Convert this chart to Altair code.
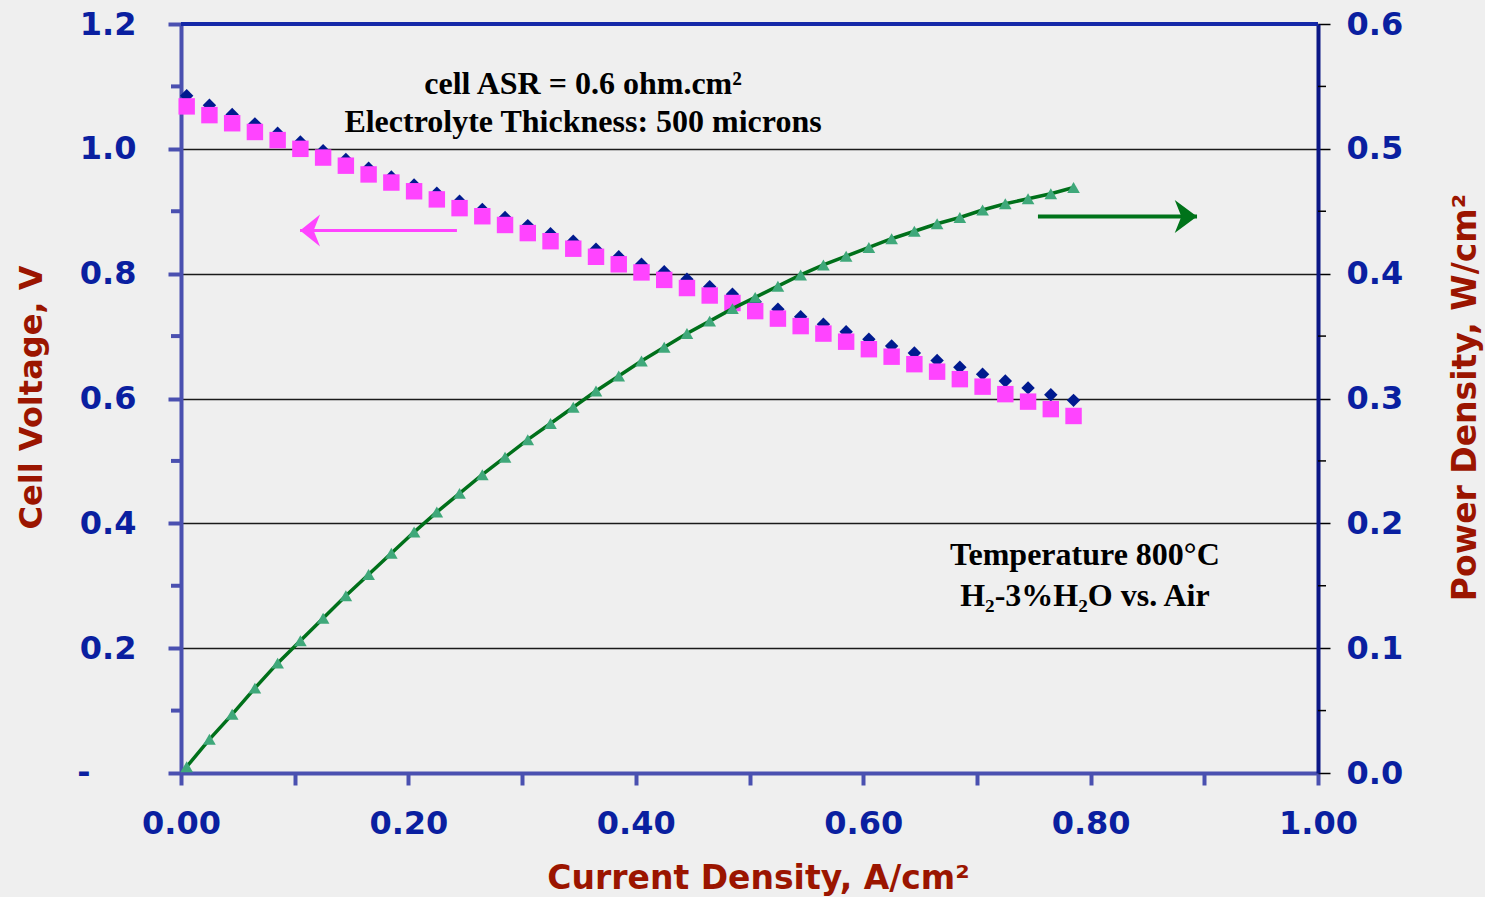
import altair as alt
import pandas as pd

# ---------------- data ----------------
current = [0.005, 0.025, 0.045, 0.065, 0.085, 0.105, 0.125, 0.145, 0.165, 0.185,
           0.205, 0.225, 0.245, 0.265, 0.285, 0.305, 0.325, 0.345, 0.365, 0.385,
           0.405, 0.425, 0.445, 0.465, 0.485, 0.505, 0.525, 0.545, 0.565, 0.585,
           0.605, 0.625, 0.645, 0.665, 0.685, 0.705, 0.725, 0.745, 0.765, 0.785]

voltage_blue = [1.085, 1.070, 1.055, 1.040, 1.025, 1.011, 0.997, 0.983, 0.969, 0.955,
                0.942, 0.929, 0.916, 0.903, 0.890, 0.877, 0.864, 0.852, 0.839, 0.827,
                0.815, 0.803, 0.791, 0.779, 0.767, 0.755, 0.743, 0.731, 0.719, 0.707,
                0.695, 0.684, 0.673, 0.661, 0.650, 0.639, 0.628, 0.617, 0.606, 0.597]

voltage_pink = [1.068, 1.054, 1.041, 1.027, 1.014, 1.000, 0.986, 0.973, 0.959, 0.946,
                0.932, 0.919, 0.905, 0.892, 0.878, 0.865, 0.852, 0.840, 0.827, 0.815,
                0.802, 0.790, 0.777, 0.765, 0.753, 0.740, 0.728, 0.716, 0.704, 0.691,
                0.679, 0.667, 0.655, 0.643, 0.631, 0.619, 0.607, 0.595, 0.583, 0.572]

power = [0.005, 0.027, 0.047, 0.068, 0.088, 0.106, 0.124, 0.142, 0.159, 0.176,
         0.193, 0.209, 0.224, 0.239, 0.253, 0.267, 0.280, 0.293, 0.306, 0.318,
         0.330, 0.341, 0.352, 0.362, 0.372, 0.381, 0.390, 0.399, 0.407, 0.414,
         0.421, 0.428, 0.434, 0.440, 0.445, 0.451, 0.456, 0.460, 0.464, 0.469]

x_ticks = [0.0, 0.1, 0.2, 0.3, 0.4, 0.5, 0.6, 0.7, 0.8, 0.9, 1.0]
v_ticks = [0.0, 0.2, 0.4, 0.6, 0.8, 1.0, 1.2]
v_minor = [0.1, 0.3, 0.5, 0.7, 0.9, 1.1]
p_ticks = [0.0, 0.1, 0.2, 0.3, 0.4, 0.5, 0.6]
p_minor = [0.05, 0.15, 0.25, 0.35, 0.45, 0.55]

ann_text = ["cell ASR = 0.6 ohm.cm²", "Electrolyte Thickness: 500 microns",
            "Temperature 800°C", "H₂-3%H₂O vs. Air"]
ann_x = [0.3536, 0.3536, 0.795, 0.795]
ann_v = [1.1045, 1.0437, 0.349, 0.2837]

# arrows (tip, tail) in data units
pink_arrow_tip = 0.1047
pink_arrow_tail = 0.2427
pink_arrow_v = 0.8693
green_arrow_tip = 0.8936
green_arrow_tail = 0.7537
green_arrow_v = 0.8915

# ---------------- styling ----------------
W, H = 1137, 749
BG = "#EFEFEF"
AX_BLUE = "#4A50B0"
LBL_BLUE = "#0A1FA0"
TITLE_RED = "#9B1500"
SANS = "DejaVu Sans"
SERIF = "Liberation Serif"

x_scale = alt.Scale(domain=[0, 1], nice=False, zero=False)
v_scale = alt.Scale(domain=[0, 1.2], nice=False, zero=False)
p_scale = alt.Scale(domain=[0, 0.6], nice=False, zero=False)

axis_x = alt.Axis(
    values=x_ticks,
    labelExpr="round(datum.value*10) % 2 == 0 ? format(datum.value, '.2f') : ''",
    tickSize=12, tickWidth=4, tickColor=AX_BLUE,
    domainColor=AX_BLUE, domainWidth=4, grid=False,
    labelFont=SANS, labelFontWeight="bold", labelFontSize=32, labelColor=LBL_BLUE,
    labelPadding=23, labelFlush=False, labelOverlap=False, labelBound=False,
    title="Current Density, A/cm²", titleFont=SANS, titleFontWeight="bold",
    titleFontSize=33, titleColor=TITLE_RED, titleX=577, titleY=105,
    titleBaseline="middle", titleAlign="center",
)

axis_v = alt.Axis(
    values=v_ticks,
    labelExpr="datum.value == 0 ? '' : format(datum.value, '.1f')",
    tickSize=13, tickWidth=4, tickColor=AX_BLUE,
    domainColor=AX_BLUE, domainWidth=4,
    grid=True, gridColor="#1a1a1a", gridWidth=1.3,
    labelFont=SANS, labelFontWeight="bold", labelFontSize=32, labelColor=LBL_BLUE,
    labelPadding=32, labelFlush=False, labelOverlap=False, labelBound=False,
    title="Cell Voltage, V", titleFont=SANS, titleFontWeight="bold",
    titleFontSize=32, titleColor=TITLE_RED, titleX=-150, titleY=373,
    titleAngle=270, titleBaseline="middle", titleAlign="center",
)

axis_p = alt.Axis(
    orient="right", values=p_ticks, format=".1f",
    tickSize=12, tickWidth=1.5, tickColor="black",
    domainColor="#0B1786", domainWidth=4, grid=False,
    labelFont=SANS, labelFontWeight="bold", labelFontSize=32, labelColor=LBL_BLUE,
    labelPadding=16, labelFlush=False, labelOverlap=False, labelBound=False,
    title="Power Density, W/cm²", titleFont=SANS, titleFontWeight="bold",
    titleFontSize=33, titleColor=TITLE_RED, titleX=147, titleY=373,
    titleAngle=270, titleBaseline="middle", titleAlign="center",
)


def X(field):
    return alt.X(field, type="quantitative", scale=x_scale, axis=axis_x)


def YV(field):
    return alt.Y(field, type="quantitative", scale=v_scale, axis=axis_v)


def YP(field):
    return alt.Y(field, type="quantitative", scale=p_scale, axis=axis_p)


df = pd.DataFrame({"i": current, "vb": voltage_blue, "vp": voltage_pink, "p": power})

# ---------------- voltage (left axis) layers ----------------
top_border = alt.Chart(pd.DataFrame({"v": [1.2]})).mark_rule(
    color="#1428A8", strokeWidth=4
).encode(y=YV("v"), x=alt.value(0), x2=alt.value(W))

minor_left = alt.Chart(pd.DataFrame({"v": v_minor})).mark_rule(
    color=AX_BLUE, strokeWidth=4
).encode(y=YV("v"), x=alt.value(-10), x2=alt.value(0))

zero_label = alt.Chart(pd.DataFrame({"v": [0.0], "t": ["-"]})).mark_text(
    font=SANS, fontWeight="bold", fontSize=32, color=LBL_BLUE,
    align="center", baseline="middle"
).encode(y=YV("v"), x=alt.value(-97), text="t:N")

blue_pts = alt.Chart(df).mark_point(
    shape="diamond", filled=True, size=180, color="#001A8F", opacity=1
).encode(x=X("i"), y=YV("vb"))

pink_pts = alt.Chart(df).mark_point(
    shape="square", filled=True, size=270, color="#FF44FF", opacity=1
).encode(x=X("i"), y=YV("vp"))

arrows_df = pd.DataFrame({
    "tip": [pink_arrow_tip, green_arrow_tip],
    "tail": [pink_arrow_tail, green_arrow_tail],
    "v": [pink_arrow_v, green_arrow_v],
})
pink_line = alt.Chart(arrows_df.iloc[[0]]).mark_rule(color="#FF44FF", strokeWidth=3).encode(
    x=X("tip"), x2="tail", y=YV("v"))
pink_head = alt.Chart(arrows_df.iloc[[0]]).mark_point(
    shape="M0,0 L1.25,-1 L0.85,0 L1.25,1 Z", filled=True, size=1024,
    color="#FF44FF", opacity=1, strokeWidth=0
).encode(x=X("tip"), y=YV("v"))

green_line_arrow = alt.Chart(arrows_df.iloc[[1]]).mark_rule(color="#00731A", strokeWidth=4).encode(
    x=X("tail"), x2="tip", y=YV("v"))
green_head = alt.Chart(arrows_df.iloc[[1]]).mark_point(
    shape="M0,0 L-1.35,-1 L-0.95,0 L-1.35,1 Z", filled=True, size=1089,
    color="#00731A", opacity=1, strokeWidth=0
).encode(x=X("tip"), y=YV("v"))

ann = alt.Chart(pd.DataFrame({"t": ann_text, "x": ann_x, "v": ann_v})).mark_text(
    font=SERIF, fontWeight="bold", fontSize=32, color="black",
    align="center", baseline="middle"
).encode(x=X("x"), y=YV("v"), text="t:N")

v_layer = alt.layer(top_border, minor_left, zero_label, blue_pts, pink_pts,
                    pink_line, pink_head, green_line_arrow, green_head, ann)

# ---------------- power (right axis) layers ----------------
minor_right = alt.Chart(pd.DataFrame({"p": p_minor})).mark_rule(
    color="black", strokeWidth=1.5
).encode(y=YP("p"), x=alt.value(W), x2=alt.value(W + 8))

p_line = alt.Chart(df).mark_line(color="#00701A", strokeWidth=3.5).encode(
    x=X("i"), y=YP("p"))

p_pts = alt.Chart(df).mark_point(
    shape="triangle-up", filled=True, size=160, color="#3FA87A", opacity=1
).encode(x=X("i"), y=YP("p"))

p_layer = alt.layer(minor_right, p_line, p_pts)

chart = alt.layer(v_layer, p_layer).resolve_scale(y="independent").properties(
    width=W, height=H,
    autosize=alt.AutoSizeParams(type="none"),
    padding={"left": 181, "top": 24, "right": 167, "bottom": 124},
    background=BG,
).configure_view(stroke=None)

chart.save("out.html", embed_options={"renderer": "svg", "actions": False})
